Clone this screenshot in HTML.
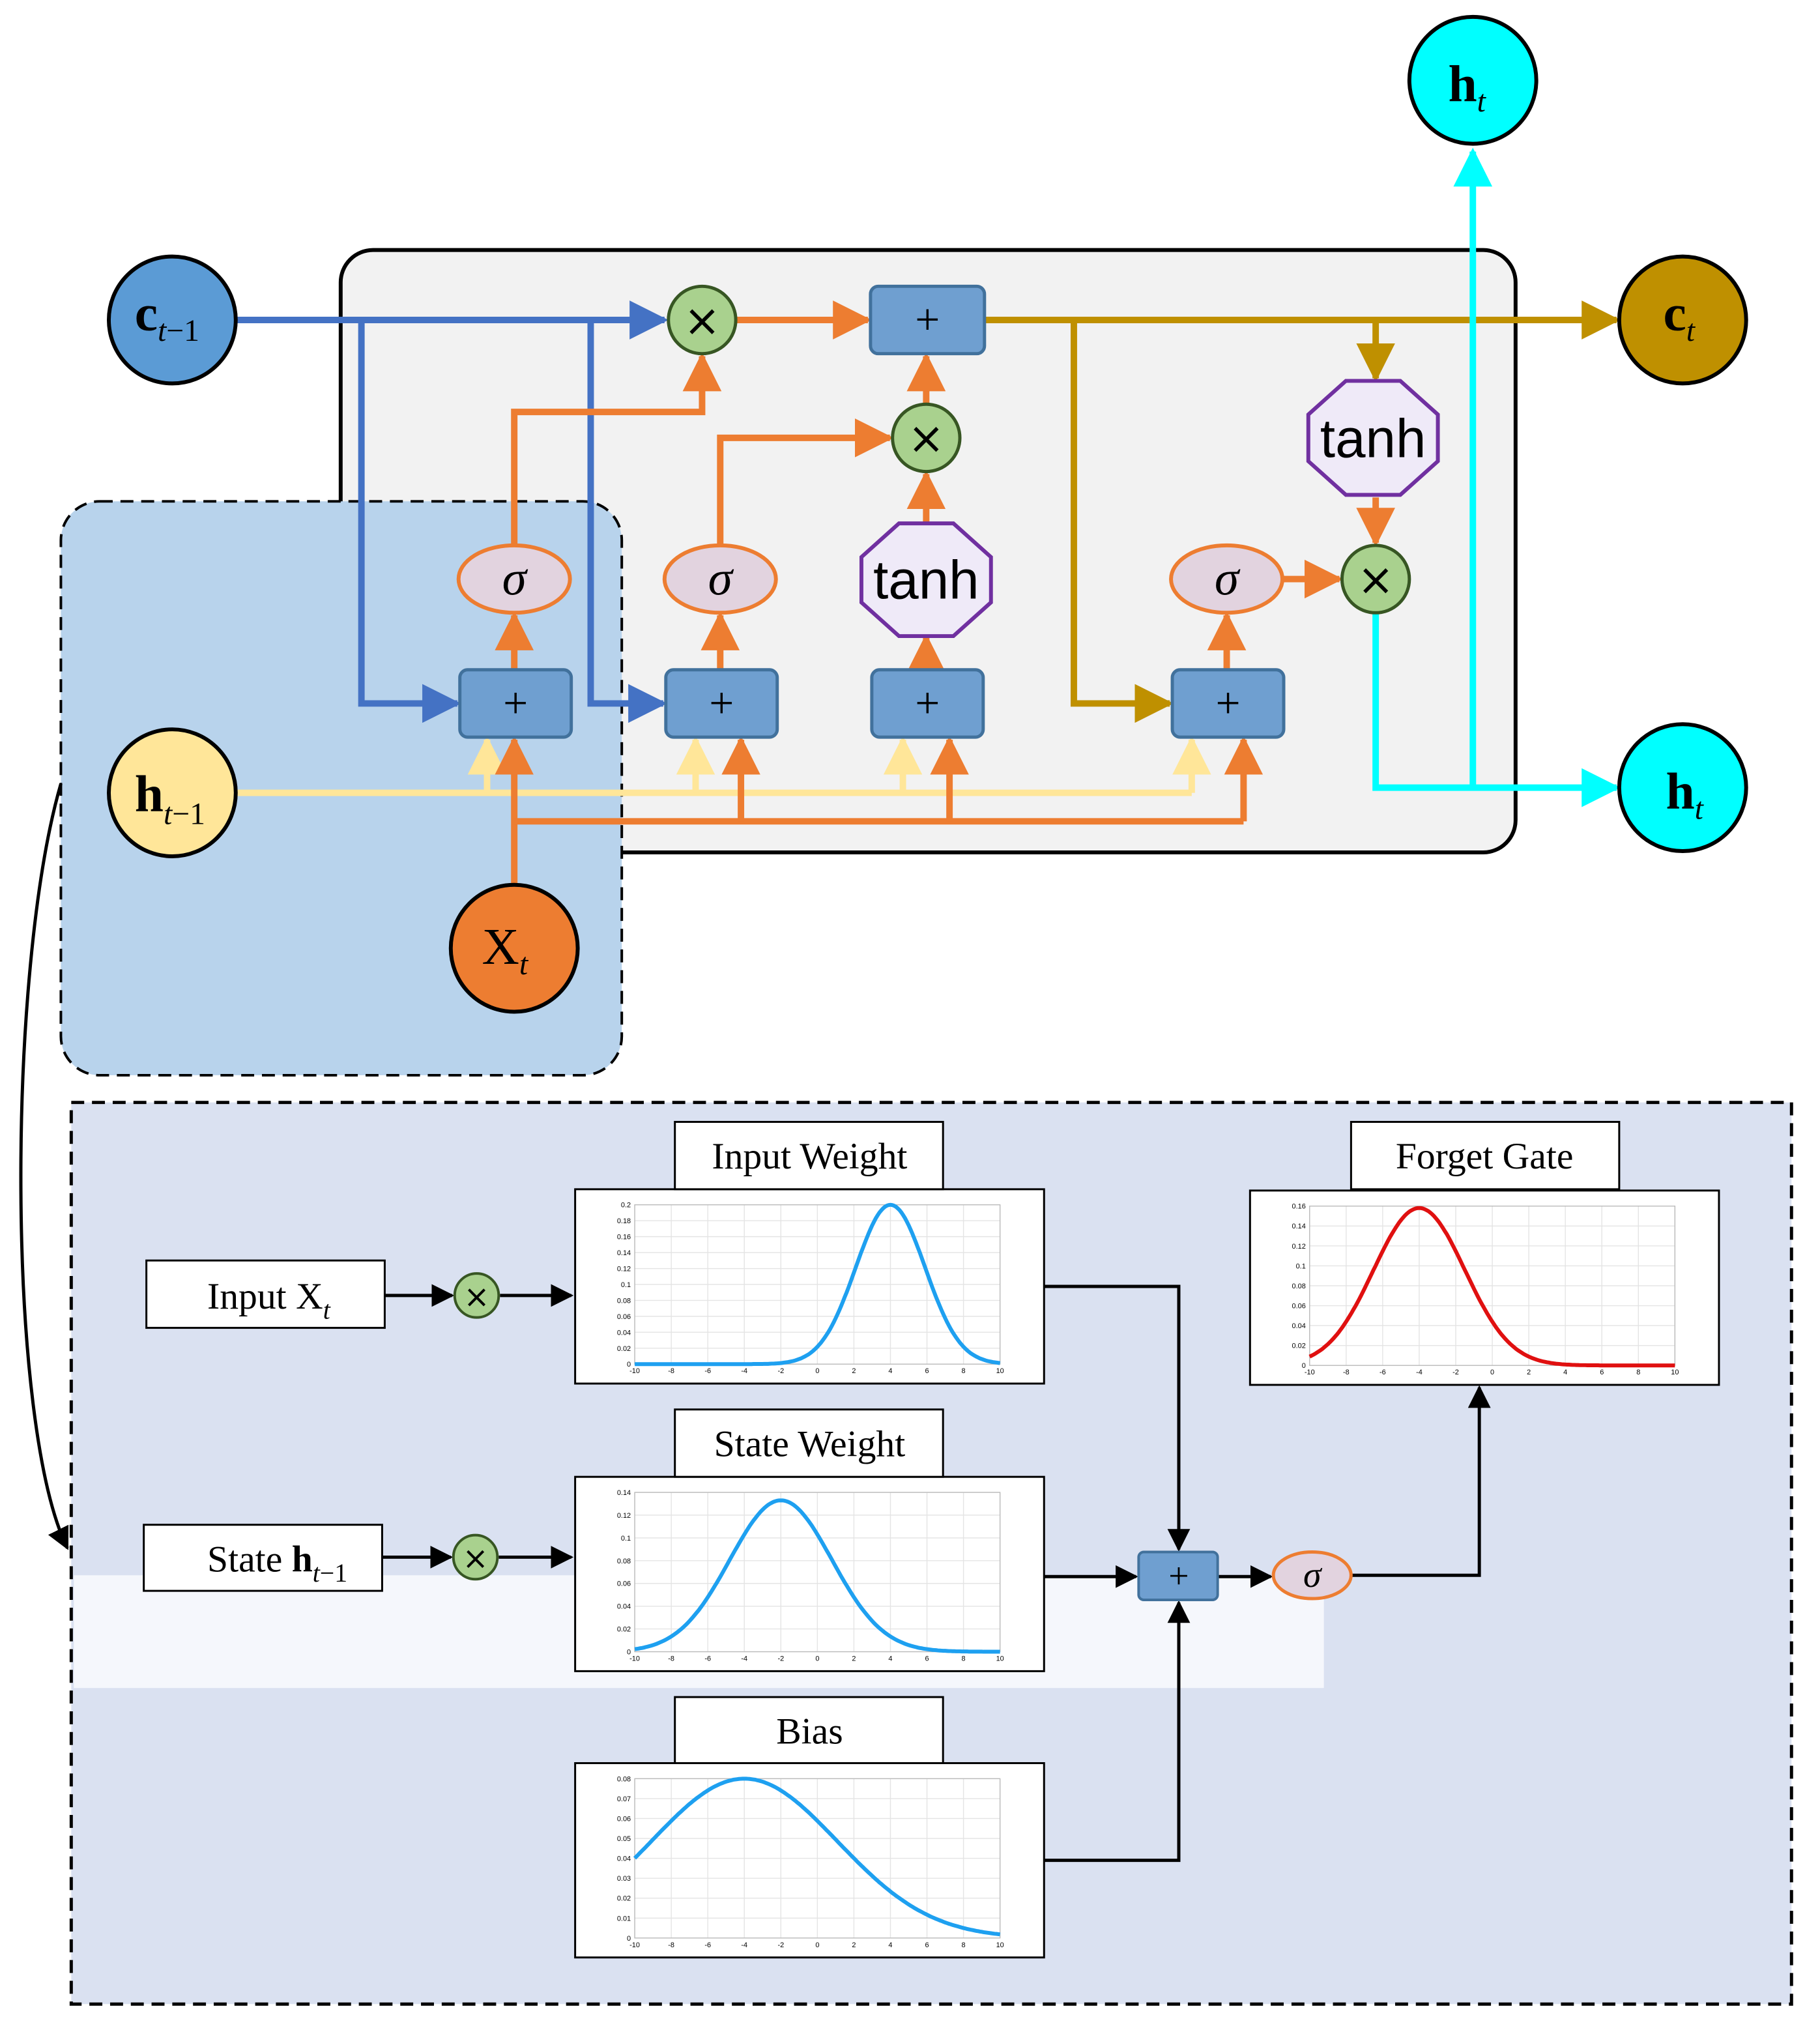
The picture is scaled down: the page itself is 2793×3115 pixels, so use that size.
<!DOCTYPE html>
<html><head><meta charset="utf-8">
<style>
html,body{margin:0;padding:0;background:#fff;}
svg{display:block;}
text{font-family:"Liberation Serif",serif;}
</style></head>
<body>
<svg id="s" width="2793" height="3115" viewBox="0 0 1405 1567" preserveAspectRatio="none" xmlns="http://www.w3.org/2000/svg">
<defs>
<marker id="aB" viewBox="0 0 10 10" refX="9" refY="5" markerWidth="6" markerHeight="6" orient="auto"><path d="M0,0L10,5L0,10z" fill="#4472c4"/></marker>
<marker id="aO" viewBox="0 0 10 10" refX="9" refY="5" markerWidth="6" markerHeight="6" orient="auto"><path d="M0,0L10,5L0,10z" fill="#ed7d31"/></marker>
<marker id="aG" viewBox="0 0 10 10" refX="9" refY="5" markerWidth="6" markerHeight="6" orient="auto"><path d="M0,0L10,5L0,10z" fill="#bf9000"/></marker>
<marker id="aC" viewBox="0 0 10 10" refX="9" refY="5" markerWidth="6" markerHeight="6" orient="auto"><path d="M0,0L10,5L0,10z" fill="#00ffff"/></marker>
<marker id="aY" viewBox="0 0 10 10" refX="9" refY="5" markerWidth="6" markerHeight="6" orient="auto"><path d="M0,0L10,5L0,10z" fill="#ffe699"/></marker>
<marker id="aK" viewBox="0 0 10 10" refX="9" refY="5" markerWidth="7" markerHeight="7" orient="auto"><path d="M0,0L10,5L0,10z" fill="#000"/></marker>
</defs>

<rect x="263" y="193" width="907" height="465" rx="25" fill="#f2f2f2" stroke="#000" stroke-width="3"/>
<rect x="47" y="387" width="433" height="443" rx="30" fill="#b8d3ec" stroke="#000" stroke-width="2" stroke-dasharray="10,6"/>

<g fill="none" stroke="#4472c4" stroke-width="5">
<path d="M182,247H513" marker-end="url(#aB)"/>
<path d="M279,247V543H353" marker-end="url(#aB)"/>
<path d="M456,247V543H512" marker-end="url(#aB)"/>
</g>
<g fill="none" stroke="#bf9000" stroke-width="5">
<path d="M760,247H1248" marker-end="url(#aG)"/>
<path d="M1062,247V292" marker-end="url(#aG)"/>
<path d="M829,247V543H903" marker-end="url(#aG)"/>
</g>
<g fill="none" stroke="#ed7d31" stroke-width="5">
<path d="M568,247H670" marker-end="url(#aO)"/>
<path d="M397,421V318H542V275" marker-end="url(#aO)"/>
<path d="M556,421V338H687" marker-end="url(#aO)"/>
<path d="M715,404V366" marker-end="url(#aO)"/>
<path d="M715,312V275" marker-end="url(#aO)"/>
<path d="M1062,384V419" marker-end="url(#aO)"/>
<path d="M990,447H1034" marker-end="url(#aO)"/>
<path d="M397,517V475" marker-end="url(#aO)"/>
<path d="M556,517V475" marker-end="url(#aO)"/>
<path d="M715,517V492" marker-end="url(#aO)"/>
<path d="M947,517V475" marker-end="url(#aO)"/>
</g>
<g fill="none" stroke="#00ffff" stroke-width="5">
<path d="M1062,473V608H1248" marker-end="url(#aC)"/>
<path d="M1137,608V117" marker-end="url(#aC)"/>
</g>
<g fill="none" stroke="#ffe699" stroke-width="5">
<path d="M182,612H920"/>
<path d="M376,612V571" marker-end="url(#aY)"/>
<path d="M537,612V571" marker-end="url(#aY)"/>
<path d="M697,612V571" marker-end="url(#aY)"/>
<path d="M920,612V571" marker-end="url(#aY)"/>
</g>
<g fill="none" stroke="#ed7d31" stroke-width="5">
<path d="M397,683V571" marker-end="url(#aO)"/>
<path d="M397,634H960"/>
<path d="M572,634V571" marker-end="url(#aO)"/>
<path d="M733,634V571" marker-end="url(#aO)"/>
<path d="M960,634V571" marker-end="url(#aO)"/>
</g>

<g fill="#6f9fd0" stroke="#41719c" stroke-width="2.5">
<rect x="672" y="221" width="88" height="52" rx="6"/>
<rect x="355" y="517" width="86" height="52" rx="6"/>
<rect x="514" y="517" width="86" height="52" rx="6"/>
<rect x="673" y="517" width="86" height="52" rx="6"/>
<rect x="905" y="517" width="86" height="52" rx="6"/>
</g>
<g font-size="34" text-anchor="middle" fill="#000">
<text x="716" y="258">+</text><text x="398" y="554">+</text><text x="557" y="554">+</text><text x="716" y="554">+</text><text x="948" y="554">+</text>
</g>
<g fill="#a9d18e" stroke="#375623" stroke-width="2.5">
<circle cx="542" cy="247" r="26"/><circle cx="715" cy="338" r="26"/><circle cx="1062" cy="447" r="26"/>
</g>
<g font-size="34" text-anchor="middle">
<text x="542" y="259" style="font-family:'DejaVu Sans'">×</text><text x="715" y="350" style="font-family:'DejaVu Sans'">×</text><text x="1062" y="459" style="font-family:'DejaVu Sans'">×</text>
</g>
<g fill="#e2d3df" stroke="#ed7d31" stroke-width="3">
<ellipse cx="397" cy="447" rx="43" ry="26"/><ellipse cx="556" cy="447" rx="43" ry="26"/><ellipse cx="947" cy="447" rx="43" ry="26"/>
</g>
<g font-size="38" font-style="italic" text-anchor="middle">
<text x="397" y="459">σ</text><text x="556" y="459">σ</text><text x="947" y="459">σ</text>
</g>
<g fill="#efeaf8" stroke="#7030a0" stroke-width="3">
<polygon points="694,404 736,404 765,430 765,465 736,491 694,491 665,465 665,430"/>
<polygon points="1039,294 1081,294 1110,320 1110,356 1081,382 1039,382 1010,356 1010,320"/>
</g>
<g font-size="42" text-anchor="middle">
<text x="715" y="462" style="font-family:'Liberation Sans'">tanh</text><text x="1060" y="353" style="font-family:'Liberation Sans'">tanh</text>
</g>

<g stroke="#000" stroke-width="3">
<circle cx="133" cy="247" r="49" fill="#5b9bd5"/>
<circle cx="1299" cy="247" r="49" fill="#bf9000"/>
<circle cx="1137" cy="62" r="49" fill="#00ffff"/>
<circle cx="1299" cy="608" r="49" fill="#00ffff"/>
<circle cx="133" cy="612" r="49" fill="#ffe699"/>
<circle cx="397" cy="732" r="49" fill="#ed7d31"/>
</g>
<g font-size="40">
<text x="104" y="255" font-weight="bold">c<tspan font-size="24" font-style="italic" font-weight="normal" dy="8">t</tspan><tspan font-size="24" font-weight="normal">−1</tspan></text>
<text x="1284" y="255" font-weight="bold">c<tspan font-size="24" font-style="italic" font-weight="normal" dy="8">t</tspan></text>
<text x="1118" y="78" font-weight="bold">h<tspan font-size="24" font-style="italic" font-weight="normal" dy="8">t</tspan></text>
<text x="1286" y="624" font-weight="bold">h<tspan font-size="24" font-style="italic" font-weight="normal" dy="8">t</tspan></text>
<text x="104" y="626" font-weight="bold">h<tspan font-size="24" font-style="italic" font-weight="normal" dy="10">t</tspan><tspan font-size="24" font-weight="normal">−1</tspan></text>
<text x="372" y="744">X<tspan font-size="24" font-style="italic" dy="8">t</tspan></text>
</g>

<path d="M47,605 C5,750 5,1100 52,1195" fill="none" stroke="#000" stroke-width="2.5" marker-end="url(#aK)"/>

<rect x="55" y="851" width="1328" height="696" fill="#dae1f1" stroke="#000" stroke-width="2.5" stroke-dasharray="10,6"/>
<rect x="57" y="1216" width="965" height="87" fill="#f5f7fc"/>

<g fill="#fff" stroke="#000" stroke-width="1.5">
<rect x="113" y="973" width="184" height="52"/>
<rect x="111" y="1177" width="184" height="51"/>
<rect x="444" y="918" width="362" height="150"/>
<rect x="444" y="1140" width="362" height="150"/>
<rect x="444" y="1361" width="362" height="150"/>
<rect x="965" y="919" width="362" height="150"/>
<rect x="521" y="866" width="207" height="52"/>
<rect x="521" y="1088" width="207" height="52"/>
<rect x="521" y="1310" width="207" height="51"/>
<rect x="1043" y="866" width="207" height="52"/>
</g>
<g font-size="29" text-anchor="middle">
<text x="625" y="902">Input Weight</text>
<text x="625" y="1124">State Weight</text>
<text x="625" y="1346">Bias</text>
<text x="1146" y="902">Forget Gate</text>
</g>
<text x="160" y="1010" font-size="29">Input  X<tspan font-size="20" font-style="italic" dy="8">t</tspan></text>
<text x="160" y="1213" font-size="29">State <tspan font-weight="bold">h</tspan><tspan font-size="20" font-style="italic" dy="8">t</tspan><tspan font-size="20" dy="0">−1</tspan></text>

<g fill="none" stroke="#000" stroke-width="2.5">
<path d="M297,1000H349" marker-end="url(#aK)"/>
<path d="M386,1000H441" marker-end="url(#aK)"/>
<path d="M295,1202H348" marker-end="url(#aK)"/>
<path d="M385,1202H441" marker-end="url(#aK)"/>
<path d="M806,993H910V1196" marker-end="url(#aK)"/>
<path d="M806,1217H877" marker-end="url(#aK)"/>
<path d="M806,1436H910V1237" marker-end="url(#aK)"/>
<path d="M940,1217H981" marker-end="url(#aK)"/>
<path d="M1043,1216H1142V1071" marker-end="url(#aK)"/>
</g>
<g fill="#a9d18e" stroke="#375623" stroke-width="2">
<circle cx="368" cy="1000" r="17"/><circle cx="367" cy="1202" r="17"/>
</g>
<text x="368" y="1009" font-size="24" text-anchor="middle" style="font-family:'DejaVu Sans'">×</text>
<text x="367" y="1211" font-size="24" text-anchor="middle" style="font-family:'DejaVu Sans'">×</text>
<rect x="879" y="1198" width="61" height="37" rx="4" fill="#6f9fd0" stroke="#41719c" stroke-width="2"/>
<text x="910" y="1226" font-size="28" text-anchor="middle">+</text>
<ellipse cx="1013" cy="1216" rx="30" ry="18" fill="#e2d3df" stroke="#ed7d31" stroke-width="2.5"/>
<text x="1013" y="1225" font-size="28" font-style="italic" text-anchor="middle">σ</text>

<g id="plots"></g>
</svg>
<script>
(function(){
var g=document.getElementById('plots');var ns='http://www.w3.org/2000/svg';
function el(t,a){var e=document.createElementNS(ns,t);for(var k in a)e.setAttribute(k,a[k]);g.appendChild(e);return e;}
function plot(bx,by,mu,sd,ymax,peak,col,ticks){
 var x0=bx+46,x1=bx+328,y0=by+12,y1=by+135;
 for(var i=0;i<=10;i++){var x=x0+(x1-x0)*i/10;el('line',{x1:x,y1:y0,x2:x,y2:y1,stroke:'#e4e4e4','stroke-width':0.7});
  var t=el('text',{x:x,y:y1+7,'font-size':5.5,'text-anchor':'middle',style:"font-family:'Liberation Sans'"});t.textContent=(-10+2*i);}
 for(var j=0;j<ticks.length;j++){var y=y1-(y1-y0)*ticks[j]/ymax;el('line',{x1:x0,y1:y,x2:x1,y2:y,stroke:'#e4e4e4','stroke-width':0.7});
  var t2=el('text',{x:x0-3,y:y+2,'font-size':5.5,'text-anchor':'end',style:"font-family:'Liberation Sans'"});t2.textContent=ticks[j];}
 el('rect',{x:x0,y:y0,width:x1-x0,height:y1-y0,fill:'none',stroke:'#bbb','stroke-width':0.7});
 var d='';for(var k=0;k<=200;k++){var xv=-10+20*k/200;var v=peak*Math.exp(-(xv-mu)*(xv-mu)/(2*sd*sd));
  var px=x0+(x1-x0)*k/200,py=y1-(y1-y0)*v/ymax;d+=(k?'L':'M')+px.toFixed(1)+','+py.toFixed(1);}
 el('path',{d:d,fill:'none',stroke:col,'stroke-width':3});
}
plot(444,918,4,1.9,0.2,0.2,'#1ea0f0',[0,0.02,0.04,0.06,0.08,0.1,0.12,0.14,0.16,0.18,0.2]);
plot(444,1140,-2,2.8,0.14,0.133,'#1ea0f0',[0,0.02,0.04,0.06,0.08,0.1,0.12,0.14]);
plot(444,1361,-4,5.1,0.08,0.08,'#1ea0f0',[0,0.01,0.02,0.03,0.04,0.05,0.06,0.07,0.08]);
plot(965,919,-4,2.5,0.16,0.158,'#e01010',[0,0.02,0.04,0.06,0.08,0.1,0.12,0.14,0.16]);
})();
</script>
</body></html>
